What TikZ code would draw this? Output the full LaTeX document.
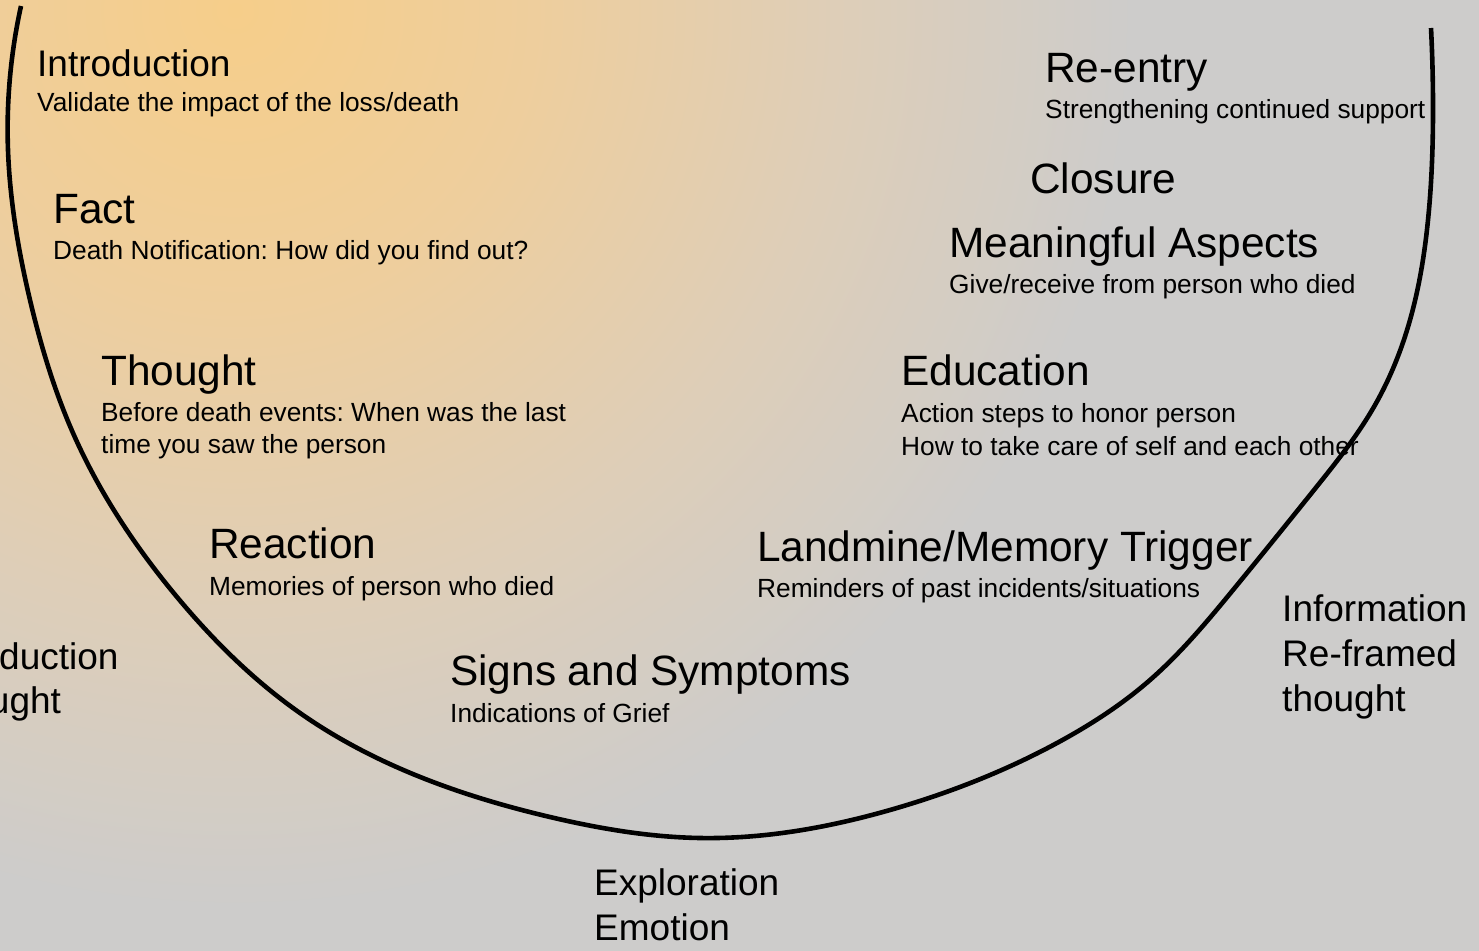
\documentclass[tikz,border=0pt]{standalone}
\usepackage{fontspec}
\setmainfont{Liberation Sans}
\usetikzlibrary{hobby}
\frenchspacing
\definecolor{warm}{RGB}{246,206,138}
\definecolor{warmB}{RGB}{238,206,157}
\definecolor{warmC}{RGB}{222,206,184}
\definecolor{bggray}{RGB}{205,204,203}
\pgfdeclareradialshading{bgshade}{\pgfpoint{0bp}{0bp}}{color(0bp)=(warm); color(7.5bp)=(warmB); color(15bp)=(warmC); color(22.5bp)=(bggray); color(50bp)=(bggray)}
\tikzset{
  head/.style={anchor=base west, inner sep=0pt, font=\fontsize{42.4}{50}\selectfont},
  headsm/.style={anchor=base west, inner sep=0pt, font=\fontsize{37}{45}\selectfont},
  sub/.style={anchor=base west, inner sep=0pt, font=\fontsize{26.3}{32}\selectfont},
  outer/.style={anchor=base west, inner sep=0pt, font=\fontsize{37}{45}\selectfont},
  arcline/.style={line width=4.6pt, black}
}
\begin{document}
\begin{tikzpicture}[x=1pt,y=-1pt]
\useasboundingbox (0,0) rectangle (1479,950);
\begin{scope}
\clip (-3,-3) rectangle (1482,953);
\fill[bggray] (-3,-3) rectangle (1482,953);
\shade[shading=bgshade] (235,10) circle (1000pt);
\end{scope}
\begin{scope}
\clip (0,0) rectangle (1479,950);
% left-side stage labels
\node[headsm] (intro) at (37,77) {Introduction};
\node[sub] (introS) at (37,111) {Validate the impact of the loss/death};
\node[head] (fact) at (53,223) {Fact};
\node[sub] (factS) at (53,259) {Death Notification: How did you find out?};
\node[head] (thought) at (101,385) {Thought};
\node[sub] (thoughtS1) at (101,421) {Before death events: When was the last};
\node[sub] (thoughtS2) at (101,453) {time you saw the person};
\node[head] (reaction) at (209,558) {Reaction};
\node[sub] (reactionS) at (209,595) {Memories of person who died};
\node[head] (signs) at (450,685) {Signs and Symptoms};
\node[sub] (signsS) at (450,722) {Indications of Grief};
% right-side stage labels
\node[head] (land) at (757,561) {Landmine/Memory Trigger};
\node[sub] (landS) at (757,597) {Reminders of past incidents/situations};
\node[head] (edu) at (901,385) {Education};
\node[sub] (eduS1) at (901,422) {Action steps to honor person};
\node[sub] (eduS2) at (901,455) {How to take care of self and each other};
\node[head] (mean) at (949,257) {Meaningful Aspects};
\node[sub] (meanS) at (949,293) {Give/receive from person who died};
\node[head] (closure) at (1030,193) {Closure};
\node[head] (reentry) at (1045,82) {Re-entry};
\node[sub] (reentryS) at (1045,118) {Strengthening continued support};
% outer labels
\node[outer] (infoA) at (1282,621) {Information};
\node[outer] (infoB) at (1282,666) {Re-framed};
\node[outer] (infoC) at (1282,711) {thought};
\node[outer] (explA) at (594,895) {Exploration};
\node[outer] (explB) at (594,940) {Emotion};
\node[outer] (leftA) at (-75,669) {Introduction};
\node[outer] (leftB) at (-75,713) {Thought};
% the U-shaped arc
\coordinate (p1) at (21,6);
\coordinate (p2) at (8,150);
\coordinate (p3) at (30,300);
\coordinate (p4) at (73,433);
\coordinate (p5) at (177,597);
\coordinate (p6) at (300,713);
\coordinate (p7) at (550,817);
\coordinate (p8) at (700,838);
\coordinate (p9) at (890,810);
\coordinate (p10) at (1057,743);
\coordinate (p11) at (1150,680);
\coordinate (p12) at (1233,590);
\coordinate (p13) at (1314,490);
\coordinate (p14) at (1375,405);
\coordinate (p15) at (1410,320);
\coordinate (p16) at (1428,220);
\coordinate (p17) at (1433,110);
\coordinate (p18) at (1431,28);
\draw[arcline, use Hobby shortcut] (p1) .. (p2) .. (p3) .. (p4) .. (p5) .. (p6) .. (p7) .. (p8) .. (p9) .. (p10) .. (p11) .. (p12) .. (p13) .. (p14) .. (p15) .. (p16) .. (p17) .. (p18);
\end{scope}
\end{tikzpicture}
\end{document}
